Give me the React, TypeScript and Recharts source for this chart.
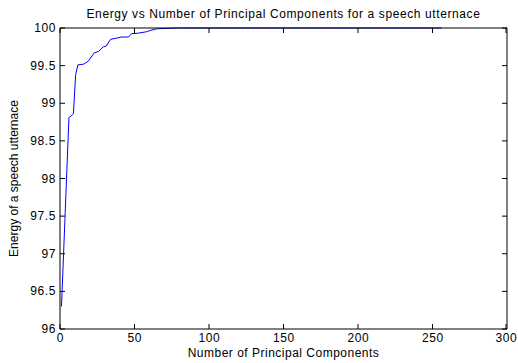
import { LineChart, Line, XAxis, YAxis } from "recharts"

const components = [1, 6, 8, 9, 10.5, 12, 16, 19, 23, 26, 29, 31, 34, 39, 41, 46, 48, 52, 58, 61, 65, 78, 256]
const energy = [96.3, 98.81, 98.84, 98.86, 99.38, 99.51, 99.52, 99.56, 99.67, 99.69, 99.75, 99.76, 99.85, 99.87, 99.88, 99.88, 99.925, 99.93, 99.95, 99.97, 99.99, 100, 100]

const xTicks = [0, 50, 100, 150, 200, 250, 300]
const yTicks = [96, 96.5, 97, 97.5, 98, 98.5, 99, 99.5, 100]

const data = components.map((c, i) => ({ pc: c, energy: energy[i] }))

const font = { fontFamily: "'Liberation Sans', Arial, sans-serif", fontSize: 12, fill: "#000" }
// the original export is a bit stretched sideways
const wide = { ...font, letterSpacing: 0.6 }

// MATLAB style: tick marks point into the plot box
const BottomTick = (p: any) => (
  <g>
    <line x1={p.x} y1={p.y} x2={p.x} y2={p.y - 5} stroke="#000" />
    <text x={p.x + 0.3} y={p.y + 13} textAnchor="middle" style={wide}>{p.payload.value}</text>
  </g>
)
const TopTick = (p: any) => <line x1={p.x} y1={p.y} x2={p.x} y2={p.y + 5} stroke="#000" />
const LeftTick = (p: any) => (
  <g>
    <line x1={p.x} y1={p.y} x2={p.x + 5} y2={p.y} stroke="#000" />
    <text x={p.x - 4} y={p.y + 4} textAnchor="end" style={wide}>{p.payload.value}</text>
  </g>
)
const RightTick = (p: any) => <line x1={p.x} y1={p.y} x2={p.x - 5} y2={p.y} stroke="#000" />

export default function App() {
  return (
    <div style={{ position: "absolute", left: 0, top: 0, background: "#fff" }}>
      <LineChart width={518} height={363} data={data} margin={{ top: 27, right: 10, bottom: 0, left: 0 }}>
        <XAxis
          dataKey="pc"
          type="number"
          domain={[0, 300]}
          ticks={xTicks}
          height={34}
          stroke="#000"
          tickLine={false}
          tickSize={0}
          tickMargin={0}
          tick={<BottomTick />}
          label={{ value: "Number of Principal Components", position: "insideBottom", offset: 6, style: { ...font, letterSpacing: 0.5 } }}
        />
        <XAxis
          xAxisId="top"
          orientation="top"
          dataKey="pc"
          type="number"
          domain={[0, 300]}
          ticks={xTicks}
          height={1}
          stroke="#000"
          tickLine={false}
          tickSize={0}
          tickMargin={0}
          tick={<TopTick />}
          label={{ value: "Energy vs Number of Principal Components for a speech utternace", position: "top", offset: 9, style: { ...font, letterSpacing: 0.6 } }}
        />
        <YAxis
          type="number"
          domain={[96, 100]}
          ticks={yTicks}
          width={60}
          stroke="#000"
          tickLine={false}
          tickSize={0}
          tickMargin={0}
          tick={<LeftTick />}
          label={{ value: "Energy of a speech utternace", angle: -90, position: "insideLeft", offset: 14, style: { ...font, textAnchor: "middle" } }}
        />
        <YAxis
          yAxisId="right"
          orientation="right"
          type="number"
          domain={[96, 100]}
          ticks={yTicks}
          width={1}
          stroke="#000"
          tickLine={false}
          tickSize={0}
          tickMargin={0}
          tick={<RightTick />}
        />
        <Line
          xAxisId="top"
          yAxisId="right"
          type="linear"
          dataKey="energy"
          stroke="none"
          dot={false}
          legendType="none"
          isAnimationActive={false}
        />
        <Line
          type="linear"
          dataKey="energy"
          stroke="#0000ff"
          strokeWidth={1}
          dot={false}
          isAnimationActive={false}
        />
      </LineChart>
    </div>
  )
}
